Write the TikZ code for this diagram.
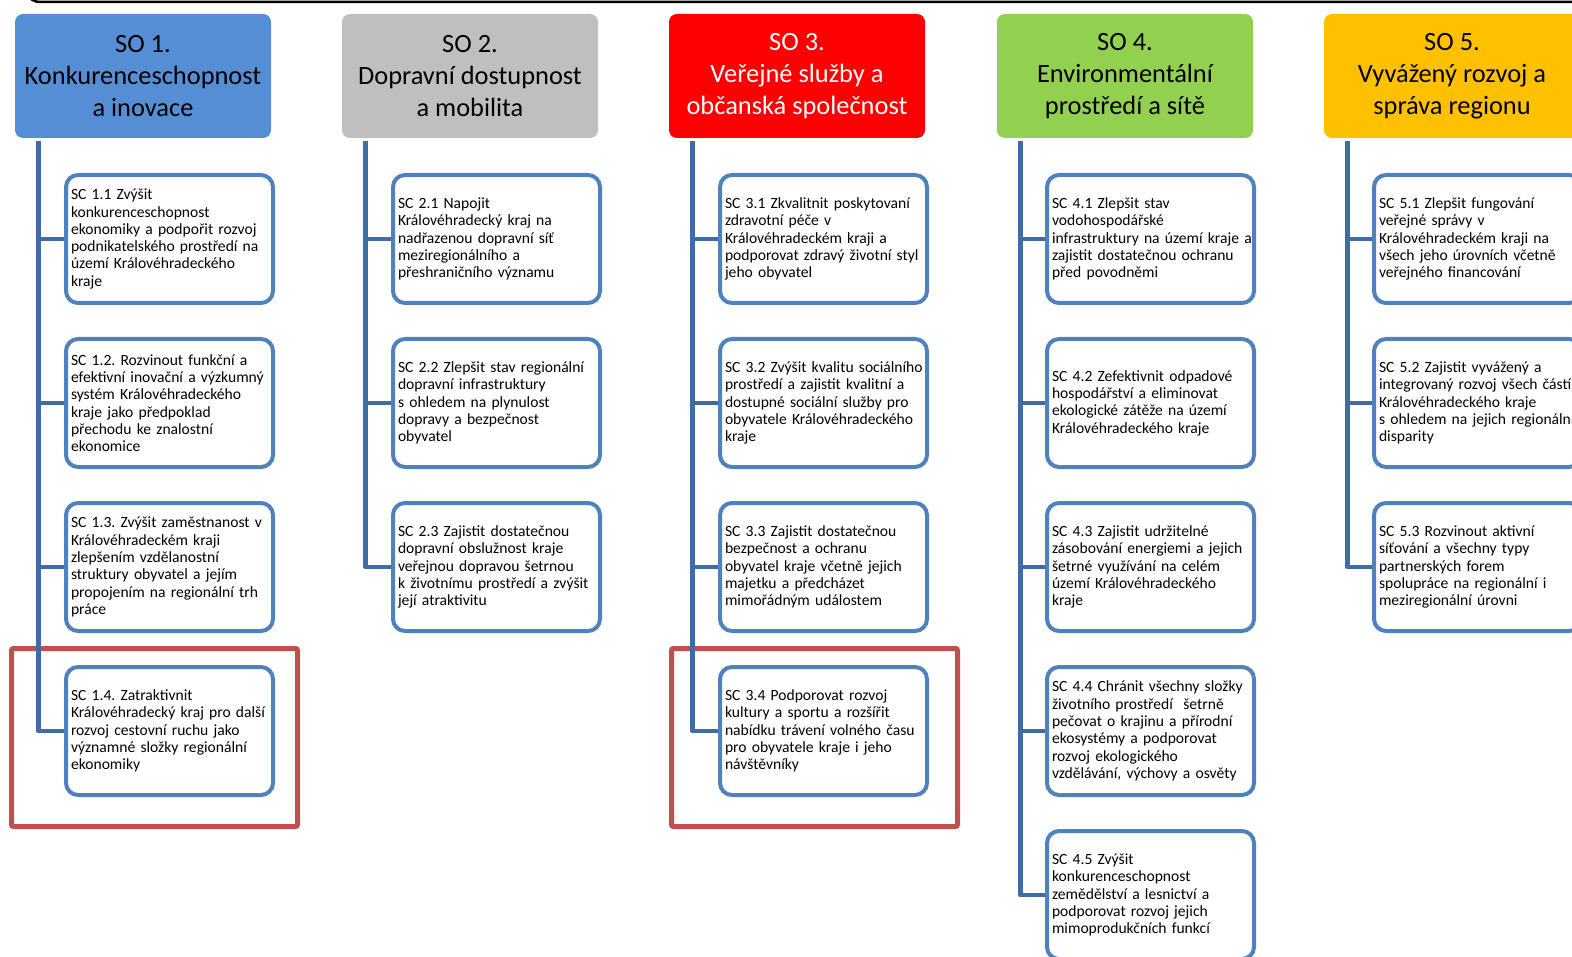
\documentclass[tikz,border=0pt]{standalone}
\usepackage{fontspec}
\setmainfont{Carlito}
\usepackage{tikz}
\usetikzlibrary{positioning}
\frenchspacing

\definecolor{soblue}{HTML}{558ED5}
\definecolor{sogray}{HTML}{BFBFBF}
\definecolor{sored}{HTML}{FF0000}
\definecolor{sogreen}{HTML}{92D050}
\definecolor{soorange}{HTML}{FFC000}
\definecolor{boxblue}{HTML}{4F81BD}
\definecolor{trunkblue}{HTML}{3F6CA3}
\definecolor{frame}{HTML}{C0504D}

\tikzset{
  sohead/.style={rectangle, rounded corners=8, minimum width=256, minimum height=124,
    inner sep=0, align=center, font=\fontsize{26.4}{32}\selectfont},
  scbox/.style={rectangle, rounded corners=12, draw=boxblue, fill=white, line width=4,
    minimum width=207, minimum height=128, inner xsep=5, inner ysep=0, text width=197,
    align=left, font=\fontsize{15.6}{17.3}\selectfont},
  trunk/.style={draw=trunkblue, line width=4.5, line join=round},
  hlframe/.style={draw=frame, line width=5, rounded corners=2}
}

\begin{document}
\begin{tikzpicture}[x=1pt, y=-1pt]
    \useasboundingbox (0,0) rectangle (1572,957);
    \clip (0,0) rectangle (1572,957);

    % Frame edge at top
    \draw[black, line width=2.5, rounded corners=15] (25,-40) |- (1650,2);

    % Headers
    \node[sohead, fill=soblue] (so1) at (143,76) {SO 1.\\Konkurenceschopnost\\a inovace};
    \node[sohead, fill=sogray] (so2) at (470,76) {SO 2.\\Dopravní dostupnost\\a mobilita};
    \node[sohead, fill=sored, text=white] (so3) at (797,76) {SO 3.\\Veřejné služby a\\občanská společnost};
    \node[sohead, fill=sogreen] (so4) at (1125,76) {SO 4.\\Environmentální\\prostředí a sítě};
    \node[sohead, fill=soorange] (so5) at (1452,76) {SO 5.\\Vyvážený rozvoj a\\správa regionu};

    % Trunk tops
    \coordinate (t1) at ([xshift=23.5, yshift=-3]so1.south west);
    \coordinate (t2) at ([xshift=23.5, yshift=-3]so2.south west);
    \coordinate (t3) at ([xshift=23.5, yshift=-3]so3.south west);
    \coordinate (t4) at ([xshift=23.5, yshift=-3]so4.south west);
    \coordinate (t5) at ([xshift=23.5, yshift=-3]so5.south west);

    % Highlight frames
    \draw[hlframe] (11.5,648.5) rectangle (297.5,826.5);
    \draw[hlframe] (671.5,648.5) rectangle (957.5,826.5);

    % SO 1 goals
    \node[scbox] (sc11) at (169.5,239) {SC 1.1 Zvýšit\\konkurenceschopnost\\ekonomiky a podpořit rozvoj\\podnikatelského prostředí na\\území Královéhradeckého\\kraje};
    \node[scbox] (sc12) at (169.5,403) {SC 1.2. Rozvinout funkční a\\efektivní inovační a výzkumný\\systém Královéhradeckého\\kraje jako předpoklad\\přechodu ke znalostní\\ekonomice};
    \node[scbox] (sc13) at (169.5,567) {SC 1.3. Zvýšit zaměstnanost v\\Královéhradeckém kraji\\zlepšením vzdělanostní\\struktury obyvatel a jejím\\propojením na regionální trh\\práce};
    \node[scbox] (sc14) at (169.5,731) {SC 1.4. Zatraktivnit\\Královéhradecký kraj pro další\\rozvoj cestovní ruchu jako\\významné složky regionální\\ekonomiky};

    % SO 2 goals
    \node[scbox] (sc21) at (496.5,239) {SC 2.1 Napojit\\Královéhradecký kraj na\\nadřazenou dopravní síť\\meziregionálního a\\přeshraničního významu};
    \node[scbox] (sc22) at (496.5,403) {SC 2.2 Zlepšit stav regionální\\dopravní infrastruktury\\s ohledem na plynulost\\dopravy a bezpečnost\\obyvatel};
    \node[scbox] (sc23) at (496.5,567) {SC 2.3 Zajistit dostatečnou\\dopravní obslužnost kraje\\veřejnou dopravou šetrnou\\k životnímu prostředí a zvýšit\\její atraktivitu};

    % SO 3 goals
    \node[scbox] (sc31) at (823.5,239) {SC 3.1 Zkvalitnit poskytovaní\\zdravotní péče v\\Královéhradeckém kraji a\\podporovat zdravý životní styl\\jeho obyvatel};
    \node[scbox] (sc32) at (823.5,403) {\mbox{SC 3.2 Zvýšit kvalitu sociálního}\\prostředí a zajistit kvalitní a\\dostupné sociální služby pro\\obyvatele Královéhradeckého\\kraje};
    \node[scbox] (sc33) at (823.5,567) {SC 3.3 Zajistit dostatečnou\\bezpečnost a ochranu\\obyvatel kraje včetně jejich\\majetku a předcházet\\mimořádným událostem};
    \node[scbox] (sc34) at (823.5,731) {SC 3.4 Podporovat rozvoj\\kultury a sportu a rozšířit\\nabídku trávení volného času\\pro obyvatele kraje i jeho\\návštěvníky};

    % SO 4 goals
    \node[scbox] (sc41) at (1150.5,239) {SC 4.1 Zlepšit stav\\vodohospodářské\\\mbox{infrastruktury na území kraje a}\\zajistit dostatečnou ochranu\\před povodněmi};
    \node[scbox] (sc42) at (1150.5,403) {SC 4.2 Zefektivnit odpadové\\hospodářství a eliminovat\\ekologické zátěže na území\\Královéhradeckého kraje};
    \node[scbox] (sc43) at (1150.5,567) {SC 4.3 Zajistit udržitelné\\zásobování energiemi a jejich\\šetrné využívání na celém\\území Královéhradeckého\\kraje};
    \node[scbox] (sc44) at (1150.5,731) {SC 4.4 Chránit všechny složky\\životního prostředí \ šetrně\\pečovat o krajinu a přírodní\\ekosystémy a podporovat\\rozvoj ekologického\\vzdělávání, výchovy a osvěty};
    \node[scbox] (sc45) at (1150.5,895) {SC 4.5 Zvýšit\\konkurenceschopnost\\zemědělství a lesnictví a\\podporovat rozvoj jejich\\mimoprodukčních funkcí};

    % SO 5 goals
    \node[scbox] (sc51) at (1477.5,239) {SC 5.1 Zlepšit fungování\\veřejné správy v\\Královéhradeckém kraji na\\všech jeho úrovních včetně\\veřejného financování};
    \node[scbox] (sc52) at (1477.5,403) {SC 5.2 Zajistit vyvážený a\\\mbox{integrovaný rozvoj všech částí}\\Královéhradeckého kraje\\\mbox{s ohledem na jejich regionální}\\disparity};
    \node[scbox] (sc53) at (1477.5,567) {SC 5.3 Rozvinout aktivní\\síťování a všechny typy\\partnerských forem\\spolupráce na regionální i\\meziregionální úrovni};

    % Trunks
    \draw[trunk] (t1) |- (sc11.west);
    \draw[trunk] (t1) |- (sc12.west);
    \draw[trunk] (t1) |- (sc13.west);
    \draw[trunk] (t1) |- (sc14.west);
    \draw[trunk] (t2) |- (sc21.west);
    \draw[trunk] (t2) |- (sc22.west);
    \draw[trunk] (t2) |- (sc23.west);
    \draw[trunk] (t3) |- (sc31.west);
    \draw[trunk] (t3) |- (sc32.west);
    \draw[trunk] (t3) |- (sc33.west);
    \draw[trunk] (t3) |- (sc34.west);
    \draw[trunk] (t4) |- (sc41.west);
    \draw[trunk] (t4) |- (sc42.west);
    \draw[trunk] (t4) |- (sc43.west);
    \draw[trunk] (t4) |- (sc44.west);
    \draw[trunk] (t4) |- (sc45.west);
    \draw[trunk] (t5) |- (sc51.west);
    \draw[trunk] (t5) |- (sc52.west);
    \draw[trunk] (t5) |- (sc53.west);

\end{tikzpicture}
\end{document}
